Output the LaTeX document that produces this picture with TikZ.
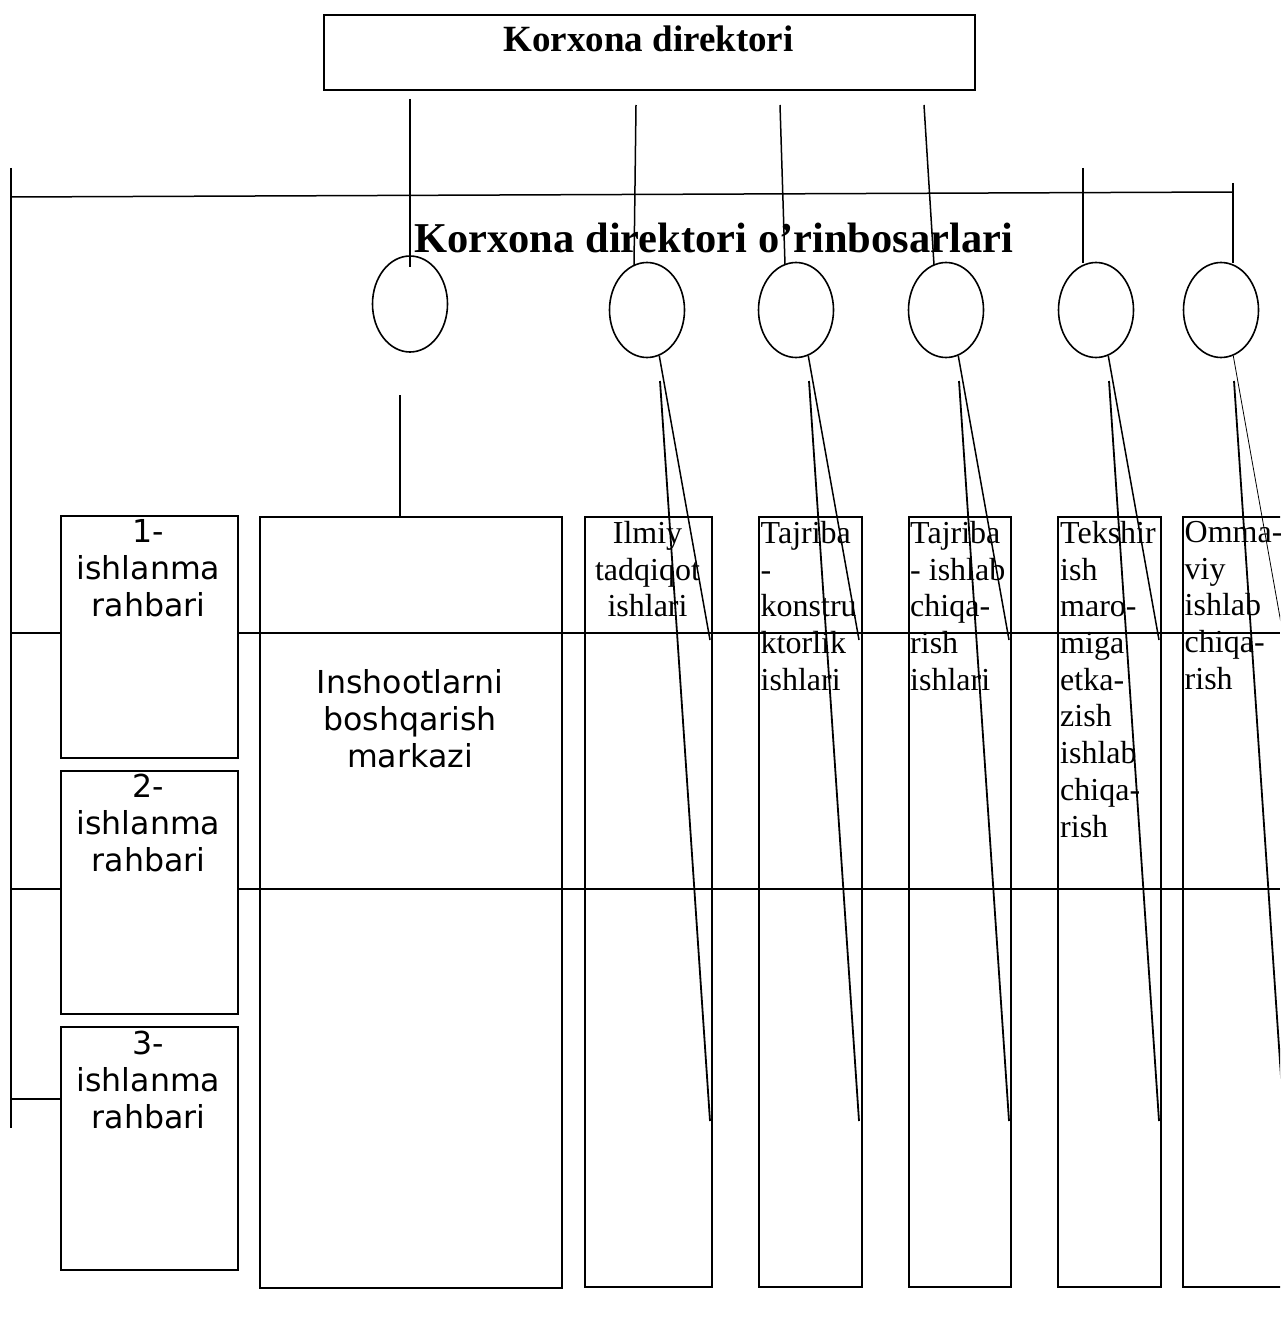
\documentclass[tikz,border=0pt]{standalone}
\usepackage{fontspec}
\setmainfont{Liberation Serif}
\newfontfamily\dejavu{DejaVu Sans}
\usetikzlibrary{positioning, shapes.geometric}

\tikzset{
  box/.style={draw, line width=2pt, inner sep=0pt, anchor=north west},
  vertex/.style={draw, ellipse, line width=1.6pt, inner sep=0pt,
    minimum width=75pt, minimum height=95pt},
  link/.style={line width=1.5pt},
  coltext/.style={inner sep=0pt, align=left, anchor=north west,
    font=\fontsize{32}{36.7}\selectfont, execute at begin node=\strut},
  sanstext/.style={inner sep=0pt, align=center, anchor=north,
    font=\dejavu\fontsize{31.6}{37}\selectfont, execute at begin node=\strut},
}

\begin{document}
\begin{tikzpicture}[x=1pt, y=-1pt]
        \useasboundingbox (0,0) rectangle (1280,1324);
        \clip (0,0) rectangle (1280,1324);
        \node[box, minimum width=651pt, minimum height=75pt] (dir) at (323,14) {};
        \node[anchor=base, inner sep=0pt, font=\bfseries\fontsize{37}{42}\selectfont] (dirt) at (648.5,52) {Korxona direktori};
        \node[anchor=base west, inner sep=0pt, font=\bfseries\fontsize{42.5}{48}\selectfont] (zam) at (414,252) {Korxona direktori o’rinbosarlari};
        \node[vertex, minimum height=96pt] (z1) at (410,304) {};
        \foreach \n/\x in {2/647,3/796,4/946,5/1096,6/1221}
            \node[vertex] (z\n) at (\x,310) {};
        % lines from the director
        \foreach \n/\a/\b/\c/\d in {1/410/99/410/267, 2/636/105/634/265, 3/780/105/785/265,
                                   4/924/105/934/265, 5/1083/168/1083/263, 6/1233/183/1233/263}{
            \coordinate (d\n) at (\a,\b);
            \coordinate (e\n) at (\c,\d);
            \draw[link] (d\n) -- (e\n);
        }
        \coordinate (w0) at (11,197);
        \coordinate (w6) at (1233,192);
        \draw[link] (w0) -- (w6);
        \coordinate (v0) at (11,168);
        \coordinate (v1) at (11,1128);
        \draw[link] (v0) -- (v1);
        % boxes
        \node[box, minimum width=302pt, minimum height=771pt] (m) at (259,516) {};
        \coordinate (m0) at (400,395);
        \draw[link] (m0) -- (m0 |- m.north);
        \node[sanstext] (mt) at (410,669) {Inshootlarni\\boshqarish\\markazi};
        \foreach \n/\x/\w in {2/584/127,3/758/103,4/908/102,5/1057/103,6/1182/108}
            \node[box, minimum width=\w pt, minimum height=770pt] (k\n) at (\x,516) {};
        \node[coltext, anchor=north, align=center] (kt2) at (647.5,521) {Ilmiy\\tadqiqot\\ishlari};
        \node[coltext] (kt3) at (760.5,521) {Tajriba\\-\\konstru\\ktorlik\\ishlari};
        \node[coltext] (kt4) at (910,521) {Tajriba\\- ishlab\\chiqa-\\rish\\ishlari};
        \node[coltext] (kt5) at (1060,521) {Tekshir\\ish\\maro-\\miga\\etka-\\zish\\ishlab\\chiqa-\\rish};
        \node[coltext] (kt6) at (1184.5,521) {Omma-\\viy\\ishlab\\chiqa-\\rish};
        \foreach \n/\x/\lw in {2/647/1.5,3/796/1.5,4/946/1.5,5/1096/1.5,6/1221/0.8}{
            \coordinate (a\n) at (\x+63,640);
            \coordinate (b\n) at (\x+13,381);
            \coordinate (c\n) at (\x+63,1121);
            \draw[link, line width=\lw pt] (z\n.-75) -- (a\n);
            \draw[link, line width=1.8pt] (b\n) -- (c\n);
        }
        % rows
        \coordinate (h1) at (11,633);
        \coordinate (h1e) at (1280,633);
        \coordinate (h2) at (11,889);
        \coordinate (h2e) at (1280,889);
        \draw[link, line width=1.4pt] (h1) -- (h1e);
        \draw[link, line width=1.4pt] (h2) -- (h2e);
        \node[box, fill=white, minimum width=177pt, minimum height=242pt] (r1) at (60,515) {};
        \node[box, fill=white, minimum width=177pt, minimum height=243pt] (r2) at (60,770) {};
        \node[box, fill=white, minimum width=177pt, minimum height=243pt] (r3) at (60,1026) {};
        \coordinate (h3) at (11,1099);
        \draw[link, line width=1.4pt] (h3) -- (h3 -| r3.west);
        \node[sanstext] (t1) at (148.5,519) {1-\\ishlanma\\rahbari};
        \node[sanstext] (t2) at (148.5,774) {2-\\ishlanma\\rahbari};
        \node[sanstext] (t3) at (148.5,1031) {3-\\ishlanma\\rahbari};
    \end{tikzpicture}
\end{document}
